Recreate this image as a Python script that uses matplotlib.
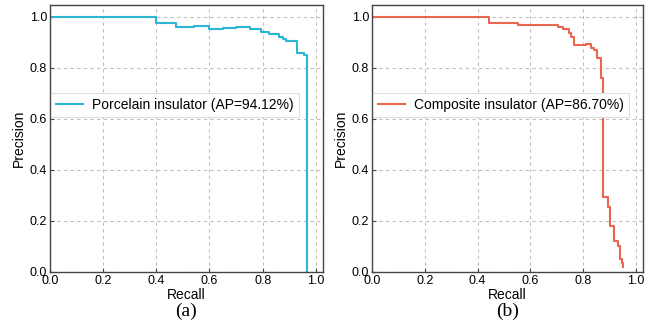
import matplotlib
matplotlib.use("Agg")
import matplotlib.pyplot as plt

# ---- data ----
porc_recall = [0.0, 0.400, 0.475, 0.540, 0.600, 0.650, 0.700, 0.752, 0.792, 0.824, 0.862, 0.875, 0.887, 0.928, 0.956, 0.968]
porc_precision = [1.0, 0.978, 0.962, 0.964, 0.953, 0.956, 0.959, 0.951, 0.943, 0.935, 0.920, 0.912, 0.905, 0.858, 0.852, 0.0]

comp_recall = [0.0, 0.443, 0.552, 0.630, 0.703, 0.725, 0.745, 0.756, 0.766, 0.810, 0.829, 0.842, 0.854, 0.867, 0.877, 0.896, 0.901, 0.917, 0.933, 0.940, 0.946, 0.952]
comp_precision = [1.0, 0.978, 0.967, 0.969, 0.961, 0.952, 0.936, 0.920, 0.890, 0.893, 0.880, 0.871, 0.838, 0.760, 0.295, 0.256, 0.182, 0.120, 0.100, 0.050, 0.035, 0.020]

labels = ["Porcelain insulator (AP=94.12%)", "Composite insulator (AP=86.70%)"]
colors = ["#2cb6d6", "#e8674e"]
subcaps = ["(a)", "(b)"]
ticks = [0.0, 0.2, 0.4, 0.6, 0.8, 1.0]

plt.rcParams['font.family'] = ['Liberation Sans', 'DejaVu Sans']

fig = plt.figure(figsize=(6.54, 3.25), dpi=100)
W, H = 654, 325
ax_boxes = [(50, 323), (372, 643)]
top_px, bot_px = 5, 272

series = [(porc_recall, porc_precision), (comp_recall, comp_precision)]
for i, ((l, r), (rx, py)) in enumerate(zip(ax_boxes, series)):
    ax = fig.add_axes([l / W, 1 - bot_px / H, (r - l) / W, (bot_px - top_px) / H])
    ax.step(rx, py, where='post', color=colors[i], lw=1.5, label=labels[i])
    ax.set_xlim(0, 1.027)
    ax.set_ylim(0, 1.047)
    ax.set_xticks(ticks)
    ax.set_yticks(ticks)
    ax.set_xticklabels([f"{t:.1f}" for t in ticks])
    ax.set_yticklabels([f"{t:.1f}" for t in ticks])
    ax.tick_params(direction='in', labelsize=9, length=3, pad=2, color='#444444')
    ax.grid(True, ls=(0, (3, 3)), color='#c0c0c0', lw=0.8)
    for s in ax.spines.values():
        s.set_color('#444444')
        s.set_linewidth(1.0)
    ax.set_xlabel("Recall", fontsize=10, labelpad=1)
    ax.set_ylabel("Precision", fontsize=10, labelpad=3)
    leg = ax.legend(loc='upper left', bbox_to_anchor=(-0.01, 0.685), fontsize=10,
                    frameon=True, fancybox=False, framealpha=1.0, edgecolor='#dddddd',
                    handlelength=1.9, borderpad=0.35, handletextpad=0.7, borderaxespad=0.3)
    leg.get_frame().set_linewidth(0.8)
    cx = (l + r) / 2 / W
    fig.text(cx, 1 - 311 / H, subcaps[i], ha='center', va='center', fontsize=14,
             family=['Liberation Serif', 'DejaVu Serif'])

fig.savefig("out.png", dpi=100)
